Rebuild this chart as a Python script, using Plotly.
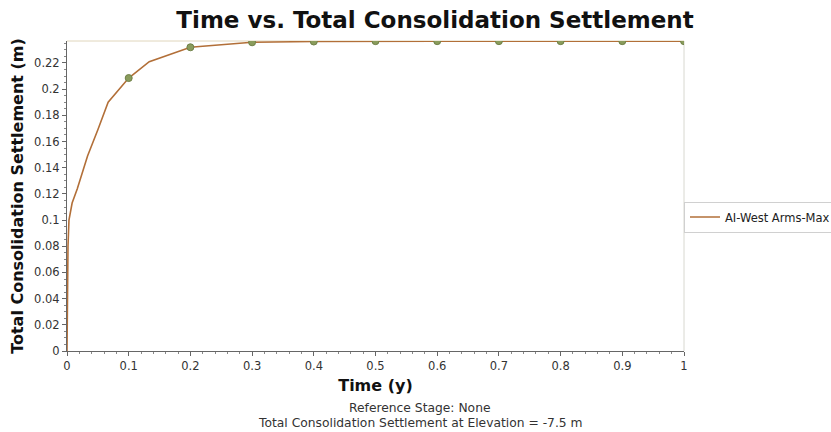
import plotly.graph_objects as go

# Data
time_y = [0, 0.0005, 0.0016, 0.0032, 0.0083, 0.0167, 0.0333, 0.05, 0.0667,
          0.1, 0.1333, 0.2, 0.3, 0.4, 0.5, 0.6, 0.7, 0.8, 0.9, 1.0]
settlement_m = [0, 0.06, 0.08, 0.1, 0.113, 0.124, 0.149, 0.169, 0.19,
                0.2085, 0.221, 0.232, 0.2358, 0.2364, 0.2367, 0.2367, 0.2367,
                0.2367, 0.2367, 0.2367]
marker_time = [0.1, 0.2, 0.3, 0.4, 0.5, 0.6, 0.7, 0.8, 0.9, 1.0]
marker_settlement = [0.2085, 0.232, 0.2358, 0.2364, 0.2367, 0.2367, 0.2367,
                     0.2367, 0.2367, 0.2367]
series_name = "AI-West Arms-Max"
x_ticks = [0, 0.1, 0.2, 0.3, 0.4, 0.5, 0.6, 0.7, 0.8, 0.9, 1]
x_tick_labels = ["0", "0.1", "0.2", "0.3", "0.4", "0.5", "0.6", "0.7", "0.8", "0.9", "1"]
y_ticks = [0, 0.02, 0.04, 0.06, 0.08, 0.1, 0.12, 0.14, 0.16, 0.18, 0.2, 0.22]
y_tick_labels = ["0", "0.02", "0.04", "0.06", "0.08", "0.1", "0.12", "0.14",
                 "0.16", "0.18", "0.2", "0.22"]

LINE = "#b26f38"
MARK = "#8a9c5c"
FONT = "DejaVu Sans, Verdana, sans-serif"

fig = go.Figure()
fig.add_trace(go.Scatter(x=time_y, y=settlement_m, mode="lines", name=series_name,
                         line=dict(color=LINE, width=1.6), showlegend=True))
fig.add_trace(go.Scatter(x=marker_time, y=marker_settlement, mode="markers",
                         marker=dict(color=MARK, size=7, line=dict(color="#6f8048", width=1)),
                         showlegend=False, hoverinfo="skip", cliponaxis=True))

fig.update_layout(
    width=831, height=432,
    margin=dict(l=67, r=147, t=41, b=81),
    paper_bgcolor="white", plot_bgcolor="white",
    font=dict(family=FONT, color="#333333", size=11),
    title=dict(text="<b>Time vs. Total Consolidation Settlement</b>",
               x=435 / 831, xanchor="center", xref="container",
               y=1 - 20 / 432, yanchor="middle", yref="container",
               font=dict(size=23, color="#111111", family=FONT)),
    legend=dict(x=684 / 831, y=1 - 217 / 432, xref="container", yref="container",
                xanchor="left", yanchor="middle",
                bordercolor="#d0d0d0", borderwidth=1, bgcolor="white",
                font=dict(size=11.5, color="#222222"), itemwidth=30),
    showlegend=True,
)
fig.update_xaxes(
    range=[0, 1], tickvals=x_ticks, ticktext=x_tick_labels, automargin=False,
    showline=True, linecolor="#666666", linewidth=1, mirror=False,
    ticks="outside", ticklen=4, tickcolor="#666666",
    minor=dict(dtick=0.02, ticks="outside", ticklen=2, tickcolor="#888888"),
    showgrid=False, zeroline=False,
    title=dict(text="<b>Time (y)</b>", font=dict(size=16, color="#111111"), standoff=8),
    tickfont=dict(size=11.5, color="#333333"),
)
fig.update_yaxes(
    range=[0, 0.2368], tickvals=y_ticks, ticktext=y_tick_labels, automargin=False,
    showline=True, linecolor="#666666", linewidth=1,
    ticks="outside", ticklen=4, tickcolor="#666666",
    minor=dict(dtick=0.005, ticks="outside", ticklen=2, tickcolor="#888888"),
    showgrid=False, zeroline=False,
    title=dict(text="<b>Total Consolidation Settlement (m)</b>", font=dict(size=16, color="#111111"), standoff=6),
    tickfont=dict(size=11.5, color="#333333"),
)
# light border on top and right
fig.add_shape(type="line", xref="paper", yref="paper", x0=0, x1=1, y0=1, y1=1,
              line=dict(color="#e0d6bc", width=1), layer="below")
fig.add_shape(type="line", xref="paper", yref="paper", x0=1, x1=1, y0=0, y1=1,
              line=dict(color="#d8d8d0", width=1), layer="below")

fig.add_annotation(text="Reference Stage: None", xref="paper", yref="paper",
                   x=(420 - 67) / 617, y=-(408 - 351) / 310, xanchor="center", yanchor="middle",
                   showarrow=False, font=dict(size=12.3, color="#333333"))
fig.add_annotation(text="Total Consolidation Settlement at Elevation = -7.5 m",
                   xref="paper", yref="paper",
                   x=(420 - 67) / 617, y=-(423 - 351) / 310, xanchor="center", yanchor="middle",
                   showarrow=False, font=dict(size=12.3, color="#333333"))

fig.write_html("out.html", config={"displayModeBar": False},
               post_script="document.body.style.margin='0';")
